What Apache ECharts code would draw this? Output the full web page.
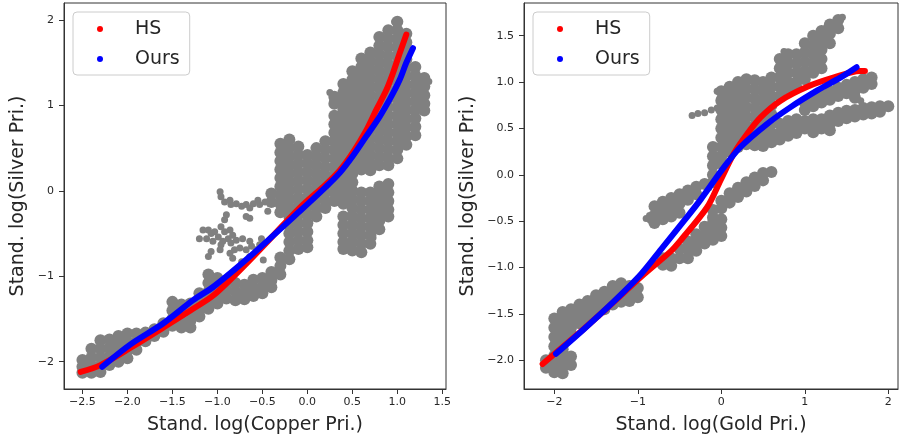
<!DOCTYPE html>
<html><head><meta charset="utf-8">
<script src="https://cdn.jsdelivr.net/npm/echarts@6.0.0/dist/echarts.min.js"></script>
<style>html,body{margin:0;padding:0;background:#fff}#c{width:899px;height:443px}</style>
</head><body><div id="c"></div>
<script>
// ---------- tick labels ----------
const leftXTicks = [-2.5,-2.0,-1.5,-1.0,-0.5,0.0,0.5,1.0,1.5];
const leftYTicks = [-2,-1,0,1,2];
const rightXTicks = [-2,-1,0,1,2];
const rightYTicks = [-2.0,-1.5,-1.0,-0.5,0.0,0.5,1.0,1.5];

// ---------- left panel: Copper vs Silver ----------
const hsLeft = [[-2.52,-2.12],[-2.3,-2.04],[-1.97,-1.84],[-1.6,-1.6],[-1.3,-1.4],[-1.04,-1.22],[-0.64,-0.81],[-0.085,-0.2],[0.2,0.07],[0.36,0.24],[0.507,0.45],[0.656,0.71],[0.767,0.95],[0.878,1.18],[0.952,1.38],[1.026,1.61],[1.1,1.83]];
const oursLeft = [[-2.28,-2.06],[-1.97,-1.8],[-1.6,-1.55],[-1.27,-1.28],[-1.04,-1.12],[-0.64,-0.77],[-0.085,-0.24],[0.2,0.04],[0.36,0.21],[0.507,0.41],[0.656,0.64],[0.804,0.87],[0.915,1.07],[1.026,1.3],[1.1,1.5],[1.174,1.67]];
// columns: [x, y1, y2, ...]
const grayLeftCols = [
[-2.5,-1.98,-2.06,-2.13],
[-2.4,-1.85,-1.95,-2.05,-2.13],
[-2.3,-1.75,-1.85,-1.95,-2.05,-2.12],
[-2.2,-1.74,-1.84,-1.94,-2.04],
[-2.1,-1.7,-1.8,-1.9,-2.0],
[-2.0,-1.67,-1.77,-1.87,-1.96],
[-1.9,-1.67,-1.77,-1.86],
[-1.8,-1.66,-1.76],
[-1.7,-1.62,-1.7],
[-1.6,-1.55,-1.65],
[-1.5,-1.3,-1.4,-1.5,-1.58],
[-1.4,-1.33,-1.43,-1.53,-1.6],
[-1.3,-1.32,-1.42,-1.52,-1.6],
[-1.2,-1.2,-1.3,-1.4,-1.47],
[-1.1,-0.98,-1.08,-1.18,-1.28,-1.38],
[-1.0,-1.02,-1.12,-1.22,-1.32],
[-0.9,-1.06,-1.16,-1.26],
[-0.8,-1.08,-1.18,-1.28],
[-0.7,-1.1,-1.2,-1.27],
[-0.6,-1.04,-1.14,-1.23],
[-0.5,-1.02,-1.12,-1.2],
[-0.4,-0.03,-0.13,-0.95,-1.05,-1.13],
[-0.3,0.55,0.45,0.35,0.25,0.15,0.05,-0.05,-0.15,-0.25,-0.78,-0.88,-0.98],
[-0.2,0.6,0.5,0.4,0.3,0.2,0.1,0.0,-0.1,-0.2,-0.3,-0.4,-0.5,-0.6,-0.7,-0.8],
[-0.1,0.52,0.42,0.32,0.22,0.12,0.02,-0.08,-0.18,-0.28,-0.38,-0.48,-0.58,-0.68],
[0.0,0.42,0.32,0.22,0.12,0.02,-0.08,-0.18,-0.28,-0.38,-0.48,-0.58,-0.66],
[0.1,0.5,0.4,0.3,0.2,0.1,0.0,-0.1,-0.2,-0.3],
[0.2,0.58,0.48,0.38,0.28,0.18,0.08,-0.02,-0.12,-0.2],
[0.3,1.1,1.02,0.88,0.78,0.68,0.58,0.48,0.38,0.28,0.18,0.08,-0.02,-0.12],
[0.4,1.25,1.15,1.05,0.95,0.85,0.75,0.65,0.55,0.45,0.35,0.25,0.15,0.05,-0.05,-0.15,-0.3,-0.4,-0.5,-0.6,-0.68],
[0.5,1.4,1.3,1.2,1.1,1.0,0.9,0.8,0.7,0.6,0.5,0.4,0.3,0.2,0.1,0.0,-0.1,-0.2,-0.3,-0.4,-0.5,-0.6,-0.7],
[0.6,1.55,1.45,1.35,1.25,1.15,1.05,0.95,0.85,0.75,0.65,0.55,0.45,0.35,0.25,-0.02,-0.12,-0.22,-0.32,-0.42,-0.52,-0.62,-0.72],
[0.7,1.62,1.52,1.42,1.32,1.22,1.12,1.02,0.92,0.82,0.72,0.62,0.52,0.42,0.32,0.24,-0.02,-0.12,-0.22,-0.32,-0.42,-0.52,-0.62],
[0.8,1.8,1.7,1.6,1.5,1.4,1.3,1.2,1.1,1.0,0.9,0.8,0.7,0.6,0.5,0.4,0.3,0.05,-0.05,-0.15,-0.25,-0.35,-0.45],
[0.9,1.88,1.78,1.68,1.58,1.48,1.38,1.28,1.18,1.08,0.98,0.88,0.78,0.68,0.58,0.48,0.38,0.3,0.08,-0.02,-0.12,-0.22,-0.3],
[1.0,1.98,1.88,1.78,1.68,1.58,1.48,1.38,1.28,1.18,1.08,0.98,0.88,0.78,0.68,0.58,0.48,0.38],
[1.1,1.84,1.74,1.64,1.54,1.44,1.34,1.24,1.14,1.04,0.94,0.84,0.74,0.64,0.54],
[1.2,1.45,1.35,1.25,1.15,1.05,0.95,0.85,0.75,0.65],
[1.3,1.32,1.22,1.12,1.02,0.94]
];
const graySparseLeft = [[-0.97,-0.01],[-0.96,-0.07],[-0.92,-0.13],[-0.86,-0.11],[-0.85,-0.16],[-0.79,-0.15],[-0.73,-0.18],[-0.68,-0.16],[-0.64,-0.2],[-0.6,-0.15],[-0.55,-0.11],[-0.53,-0.16],[-0.47,-0.13],[-0.44,-0.24],[-0.68,-0.3],[-0.64,-0.32],[-0.9,-0.28],[-0.92,-0.34],[-0.96,-0.42],[-0.92,-0.48],[-0.86,-0.46],[-0.83,-0.52],[-0.88,-0.56],[-0.94,-0.59],[-0.99,-0.54],[-1.03,-0.48],[-1.07,-0.5],[-1.1,-0.46],[-1.16,-0.46],[-1.2,-0.56],[-1.12,-0.56],[-1.05,-0.59],[-0.96,-0.63],[-0.85,-0.61],[-0.79,-0.58],[-0.72,-0.56],[-0.64,-0.59],[-0.62,-0.65],[-0.57,-0.69],[-0.51,-0.56],[-0.53,-0.63],[-0.68,-0.69],[-0.75,-0.67],[-0.81,-0.69],[-0.86,-0.73],[-0.83,-0.79],[-0.73,-0.83],[-0.64,-0.77],[-1.07,-0.71],[-1.1,-0.77],[-0.97,-0.69],[-0.49,-0.81],[0.92,-0.14],[0.9,0.05],[0.73,-0.55],[0.42,-0.69],[0.47,-0.65],[1.32,1.3],[1.23,1.32],[0.97,1.98],[1.0,1.95],[1.35,1.28],[0.25,1.15],[0.28,1.05]];

// ---------- right panel: Gold vs Silver ----------
const hsRight = [[-2.14,-2.04],[-1.76,-1.75],[-1.36,-1.43],[-0.96,-1.1],[-0.6,-0.82],[-0.49,-0.71],[-0.17,-0.35],[-0.01,-0.06],[0.15,0.23],[0.3,0.43],[0.47,0.62],[0.71,0.8],[1.03,0.95],[1.35,1.05],[1.66,1.12],[1.72,1.12]];
const oursRight = [[-1.98,-1.93],[-1.64,-1.66],[-1.28,-1.36],[-0.96,-1.07],[-0.7,-0.78],[-0.45,-0.5],[-0.25,-0.27],[0.03,0.08],[0.23,0.3],[0.55,0.55],[0.83,0.73],[1.15,0.91],[1.43,1.05],[1.62,1.16]];
const grayRightCols = [
[-2.1,-2.0,-2.08],
[-2.0,-1.55,-1.65,-1.75,-1.85,-1.95,-2.05,-2.13],
[-1.9,-1.48,-1.58,-1.68,-1.78,-1.88,-1.98,-2.07,-2.14],
[-1.8,-1.45,-1.55,-1.65,-1.72,-1.96,-2.05],
[-1.7,-1.4,-1.5,-1.6],
[-1.6,-1.36,-1.46,-1.55],
[-1.5,-1.3,-1.4,-1.5],
[-1.4,-1.26,-1.36,-1.45],
[-1.3,-1.2,-1.3,-1.4],
[-1.2,-1.17,-1.27,-1.37],
[-1.1,-1.2,-1.28,-1.36],
[-1.0,-1.22,-1.32],
[-0.8,-0.34,-0.44,-0.52],
[-0.7,-0.29,-0.39,-0.48,-0.9,-0.97],
[-0.6,-0.25,-0.35,-0.45,-0.9,-0.98],
[-0.5,-0.21,-0.31,-0.41,-0.8,-0.9],
[-0.4,-0.17,-0.27,-0.72,-0.81,-0.9],
[-0.3,-0.13,-0.21,-0.64,-0.73,-0.82],
[-0.2,-0.1,-0.56,-0.65,-0.74],
[-0.1,0.3,0.2,0.1,0.0,-0.08,-0.38,-0.46,-0.52,-0.61,-0.7],
[0.0,0.9,0.8,0.7,0.6,0.5,0.4,0.3,0.2,0.12,-0.28,-0.36,-0.48,-0.57,-0.66],
[0.1,0.95,0.85,0.75,0.65,0.55,0.45,0.35,0.25,-0.2,-0.3],
[0.2,1.0,0.9,0.8,0.7,0.6,0.5,0.4,0.3,-0.14,-0.24],
[0.3,1.03,0.93,0.83,0.73,0.63,0.53,0.43,0.33,-0.08,-0.18],
[0.4,1.02,0.92,0.82,0.72,0.62,0.52,0.42,0.32,-0.03,-0.12],
[0.5,1.0,0.9,0.8,0.7,0.6,0.5,0.4,0.31,0.02,-0.06],
[0.6,1.05,0.95,0.85,0.75,0.65,0.55,0.45,0.35,0.03],
[0.7,1.25,1.15,1.05,0.95,0.85,0.55,0.45,0.38],
[0.8,1.3,1.2,1.1,1.0,0.92,0.58,0.5,0.42],
[0.9,1.3,1.2,1.1,1.0,0.94,0.6,0.52,0.45],
[1.0,1.42,1.32,1.22,1.12,1.03,0.78,0.7,0.58,0.5],
[1.1,1.5,1.4,1.3,1.2,1.1,0.82,0.74,0.6,0.52,0.46],
[1.2,1.55,1.45,1.35,1.25,1.15,0.86,0.78,0.6,0.5],
[1.3,1.62,1.52,1.42,0.9,0.81,0.64,0.55,0.48],
[1.4,1.67,1.58,0.94,0.85,0.67,0.58],
[1.5,0.97,0.88,0.69,0.61],
[1.6,1.0,0.91,0.83,0.7,0.63],
[1.7,1.03,0.94,0.72,0.65],
[1.8,1.05,0.98,0.73,0.66],
[1.9,0.74,0.68],
[2.0,0.74]
];
const graySparseRight = [[-0.35,0.64],[-0.28,0.66],[-0.2,0.67],[-0.12,0.7],[-0.05,0.72],[-0.86,-0.44],[-0.9,-0.47],[-0.85,-0.49],[1.62,0.86],[1.67,0.8],[1.58,0.95],[0.75,1.33],[-1.05,-1.3],[-0.05,0.9],[-0.02,0.82],[-0.15,-0.14],[1.45,1.7],[1.25,1.58]];

// ---------- build ----------
const colsToPoints = cols => cols.flatMap(c => c.slice(1).map(y => [c[0], y]));
const minus = s => s.replace('-', '\u2212');
const fmt1 = v => minus(Number(v).toFixed(1));
const fmt0 = v => minus(Number(v).toFixed(0));
const FONT = 'DejaVu Sans';
const TXT = '#262626';
const AX = '#333';

function xAxis(grid, min, max, ticks, fmt, name) {
  return {
    type: 'value', gridIndex: grid, min, max,
    axisLine: {show: true, onZero: false, lineStyle: {color: AX, width: 1}},
    axisTick: {show: true, length: 5, customValues: ticks, lineStyle: {color: AX}},
    axisLabel: {customValues: ticks, formatter: fmt, fontSize: 11, color: TXT, margin: 8, fontFamily: FONT},
    splitLine: {show: false},
    name, nameLocation: 'middle', nameGap: 27,
    nameTextStyle: {fontSize: 19, color: TXT, fontFamily: FONT}
  };
}
function yAxis(grid, min, max, ticks, fmt, name, gap) {
  return {
    type: 'value', gridIndex: grid, min, max,
    axisLine: {show: true, onZero: false, lineStyle: {color: AX, width: 1}},
    axisTick: {show: true, length: 5, customValues: ticks, lineStyle: {color: AX}},
    axisLabel: {customValues: ticks, formatter: fmt, fontSize: 11, color: TXT, margin: 10, fontFamily: FONT},
    splitLine: {show: false},
    name, nameLocation: 'middle', nameGap: gap, nameRotate: 90,
    nameTextStyle: {fontSize: 19, color: TXT, fontFamily: FONT}
  };
}
function grayS(idx, data, size) {
  return {type: 'scatter', name: 'data' + idx + '_' + size, xAxisIndex: idx, yAxisIndex: idx, data, symbolSize: size,
    itemStyle: {color: '#808080', opacity: 1}, silent: true, z: 1};
}
function curve(idx, name, data, color) {
  return {type: 'line', name, xAxisIndex: idx, yAxisIndex: idx, data, showSymbol: false, symbol: 'circle',
    smooth: 0.3, lineStyle: {color, width: 6, cap: 'round', join: 'round'}, itemStyle: {color}, silent: true, z: 3};
}
function legend(left) {
  return {
    data: ['HS', 'Ours'], orient: 'vertical', left, top: 12, icon: 'circle', itemWidth: 6, itemHeight: 6,
    itemGap: 8, padding: [6, 10, 5, 24], backgroundColor: 'rgba(255,255,255,0.8)', borderColor: '#cccccc',
    borderWidth: 1, borderRadius: 4, selectedMode: false,
    textStyle: {fontSize: 19, fontFamily: FONT, color: TXT, lineHeight: 22, padding: [0, 0, 0, 27]}
  };
}

const chart = echarts.init(document.getElementById('c'), null, {renderer: 'canvas'});
chart.setOption({
  animation: false,
  backgroundColor: '#ffffff',
  grid: [
    {left: 64, top: 3, width: 382, height: 386, show: true, borderColor: AX, borderWidth: 1, containLabel: false},
    {left: 524, top: 3, width: 374, height: 386, show: true, borderColor: AX, borderWidth: 1, containLabel: false}
  ],
  xAxis: [
    xAxis(0, -2.705, 1.541, leftXTicks, fmt1, 'Stand. log(Copper Pri.)'),
    xAxis(1, -2.363, 2.116, rightXTicks, fmt0, 'Stand. log(Gold Pri.)')
  ],
  yAxis: [
    yAxis(0, -2.32, 2.199, leftYTicks, fmt0, 'Stand. log(Silver Pri.)', 36),
    yAxis(1, -2.31, 1.853, rightYTicks, fmt1, 'Stand. log(Silver Pri.)', 46)
  ],
  legend: [legend(73), legend(533)],
  series: [
    grayS(0, colsToPoints(grayLeftCols), 12),
    grayS(0, graySparseLeft, 7),
    curve(0, 'HS', hsLeft, '#ff0000'),
    curve(0, 'Ours', oursLeft, '#0000ff'),
    grayS(1, colsToPoints(grayRightCols), 12),
    grayS(1, graySparseRight, 7),
    curve(1, 'HS', hsRight, '#ff0000'),
    curve(1, 'Ours', oursRight, '#0000ff')
  ]
});
</script></body></html>
